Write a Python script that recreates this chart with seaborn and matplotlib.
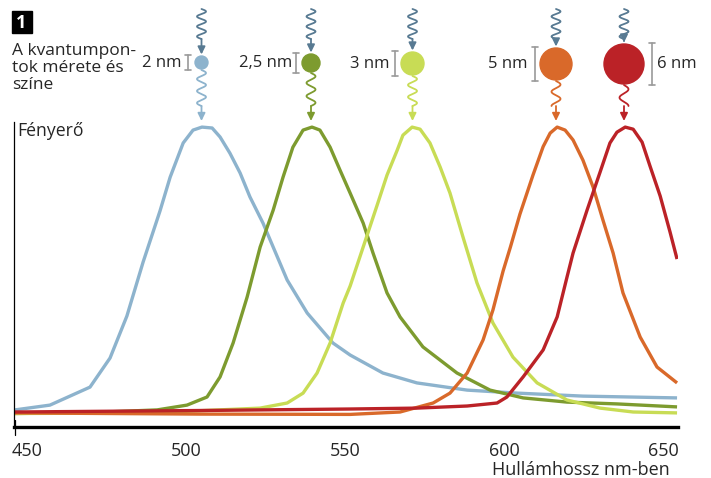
import matplotlib
matplotlib.use("Agg")
import matplotlib.pyplot as plt
import matplotlib.patches as mpatches
import seaborn as sns
import numpy as np
import pandas as pd

# Emission spectra (wavelength nm, relative brightness)
blue_wl = [446.2, 457.2, 469.8, 476.1, 481.4, 486.5, 491.8, 495.0, 499.1, 502.2, 505.0, 508.2, 510.7,
           513.8, 517.0, 520.1, 524.2, 527.4, 531.8, 538.1, 546.2, 551.6, 561.9, 572.6, 588.4, 604.1,
           624.8, 654.4]
blue_i = [5.7, 7.3, 13.3, 23, 37, 55, 72, 83.3, 94.7, 99, 100, 99.7, 96.7,
          91.3, 84.7, 76.7, 68, 60, 49, 38, 28, 24, 18, 14.7, 12.3, 11.3,
          10.3, 9.7]

green_wl = [445.9, 469.8, 490.9, 500.3, 506.6, 510.7, 514.8, 519.2, 523.3, 527.4, 530.5, 533.6, 536.8,
            539.6, 542.1, 545.3, 548.4, 551.6, 555.7, 558.8, 563.2, 567.3, 574.5, 585.2, 595.6, 606.0,
            619.8, 635.5, 654.4]
green_i = [4.5, 4.8, 5.7, 7.3, 10, 16.7, 28, 43.3, 60, 72.3, 83.3, 93.3, 99,
           100, 99, 93.3, 85.7, 78, 68, 58, 44.7, 36.7, 26.7, 18, 12.3, 9.7,
           8.3, 7.7, 6.7]

yellow_wl = [445.9, 488.7, 523.3, 531.8, 536.8, 541.2, 545.3, 549.4, 551.6, 555.7, 560.1, 563.2, 566.4,
             568.2, 571.1, 573.6, 576.7, 579.9, 583.0, 587.1, 591.5, 596.5, 602.8, 610.4, 619.8, 630.2,
             640.6, 654.4]
yellow_i = [4.5, 4.7, 6.3, 8, 11.3, 18, 28, 41.3, 47, 60, 74, 84, 92.3,
            97.3, 100, 99.3, 94.7, 86.7, 78, 63.3, 48, 34.7, 23.3, 14.7, 9, 6.3,
            5, 4.7]

orange_wl = [445.9, 504.4, 551.6, 567.3, 577.7, 583.0, 588.4, 593.4, 596.5, 599.7, 602.0, 605.0,
             609.1, 612.3, 614.5, 616.7, 619.2, 621.7, 624.8, 628.0, 631.1, 634.3, 637.4, 642.8,
             648.1, 654.4]
orange_i = [4.7, 4.3, 4.2, 5, 8, 11.3, 18, 29, 39, 52, 60, 71,
            84, 93.5, 98, 100, 99, 95.7, 89, 80, 69, 58, 44.7, 30,
            20, 14.7]

red_wl = [445.9, 504.4, 551.6, 572.6, 588.4, 597.8, 600.9, 606.0, 612.3, 616.7, 619.8, 621.7,
          626.1, 630.2, 633.3, 635.5, 638.1, 640.6, 643.4, 645.9, 649.1, 652.2, 654.4]
red_i = [5, 5.5, 6, 6.3, 7, 8, 10, 16.7, 25.7, 36.7, 50, 58,
         72.3, 85, 94.7, 98.3, 100, 99.3, 95, 87, 77, 65, 56]

sizes = ["2 nm", "2,5 nm", "3 nm", "5 nm", "6 nm"]
colors = ["#8db3cd", "#7d9b2f", "#c8dc55", "#d9692a", "#bb2227"]
x_ticks = [450, 500, 550, 600, 650]

frames = []
for s, wl, it in zip(sizes, [blue_wl, green_wl, yellow_wl, orange_wl, red_wl],
                     [blue_i, green_i, yellow_i, orange_i, red_i]):
    frames.append(pd.DataFrame({"wl": wl, "I": it, "size": s}))
df = pd.concat(frames, ignore_index=True)

sns.set_style("white")
plt.rcParams['font.family'] = ['Open Sans', 'DejaVu Sans']

fig = plt.figure(figsize=(7.11, 4.78), dpi=100)
ax = fig.add_axes([14/711, 51/478, 664/711, 305/478])

sns.lineplot(data=df, x="wl", y="I", hue="size", hue_order=sizes,
             palette=dict(zip(sizes, colors)), lw=2.4, legend=False, sort=False, ax=ax,
             solid_joinstyle="round", solid_capstyle="butt")

ax.set_xlim(445.9, 654.7)
ax.set_ylim(0, 101.7)
ax.set_xticks(x_ticks)
ax.set_xticklabels([str(t) for t in x_ticks], fontsize=13)
ax.set_yticks([])
ax.tick_params(axis="x", length=0, pad=11)
ax.set_xlabel("")
ax.set_ylabel("")
for side in ["top", "right"]:
    ax.spines[side].set_visible(False)
ax.spines["bottom"].set_linewidth(2.4)
ax.spines["bottom"].set_color("black")
ax.spines["left"].set_linewidth(0.9)
ax.spines["left"].set_color("black")

# decoration layer in pixel coordinates
deco = fig.add_axes([0, 0, 1, 1], zorder=5)
deco.set_xlim(0, 711)
deco.set_ylim(478, 0)
deco.axis("off")
deco.patch.set_alpha(0)

deco.plot([14.5, 14.5], [420, 435], color="black", lw=0.9)

deco.add_patch(mpatches.Rectangle((11.5, 11), 20, 22, color="black"))
deco.text(21.5, 22.5, "1", color="white", fontsize=13, fontweight="bold", ha="center", va="center")
deco.text(12, 68, "A kvantumpon-\ntok mérete és\nszíne", fontsize=12.5, ha="left", va="center",
          linespacing=1.08)
deco.text(17, 131, "Fényerő", fontsize=12.7, ha="left", va="center")
deco.text(670, 470, "Hullámhossz nm-ben", fontsize=13, ha="right", va="center")

# dots: center x, center y, radius, bracket x, label x, label alignment
dots = [(201.5, 62.5, 6.5, 188, 181, "right"),
        (311, 63, 9, 296, 292, "right"),
        (412.5, 63.5, 11.5, 395, 390, "right"),
        (556, 64, 16, 535, 528, "right"),
        (624, 64, 20, 652, 657, "left")]
waves = [3.0, 2.5, 2.5, 1.75, 1.25]
gray = "#9a9a9a"
inc = "#587a92"

for (cx, cy, r, bx, lx, ha), s, c, nw in zip(dots, sizes, colors, waves):
    deco.add_patch(mpatches.Circle((cx, cy), r, color=c, zorder=6))
    top, bot = cy - r - 1, cy + r + 1
    deco.plot([bx, bx], [top, bot], color=gray, lw=1.2)
    deco.plot([bx - 3, bx + 3], [top, top], color=gray, lw=1.2)
    deco.plot([bx - 3, bx + 3], [bot, bot], color=gray, lw=1.2)
    deco.text(lx, cy, s, fontsize=12, ha=ha, va="center")

    # incoming squiggle
    t = np.linspace(0, 1, 200)
    deco.plot(cx + 4.5 * np.sin(2 * np.pi * 3.0 * t), 9 + 30 * t, color=inc, lw=1.3)
    deco.annotate("", xy=(cx, cy - r - 1.5), xytext=(cx, 39),
                  arrowprops=dict(arrowstyle="-|>,head_length=0.45,head_width=0.22",
                                  color=inc, lw=1.3, shrinkA=0, shrinkB=0))
    # outgoing squiggle
    y0 = cy + r + 1
    deco.plot(cx + 4.5 * np.sin(2 * np.pi * nw * t), y0 + (106 - y0) * t, color=c, lw=1.3)
    deco.annotate("", xy=(cx, 121), xytext=(cx, 106),
                  arrowprops=dict(arrowstyle="-|>,head_length=0.45,head_width=0.22",
                                  color=c, lw=1.3, shrinkA=0, shrinkB=0))

fig.savefig("out.png", dpi=100)
